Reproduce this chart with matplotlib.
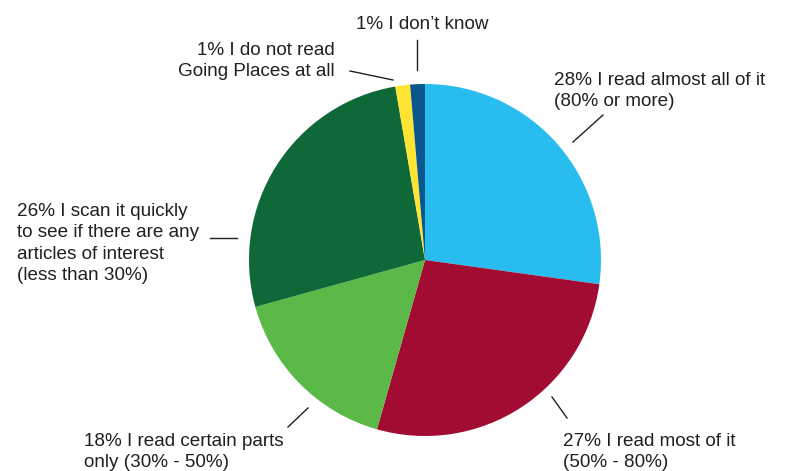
import matplotlib.pyplot as plt

plt.rcParams['font.family'] = ['Liberation Sans', 'DejaVu Sans']

# slices, clockwise from 12 o'clock
labels = [
    '28% I read almost all of it\n(80% or more)',
    '27% I read most of it\n(50% - 80%)',
    '18% I read certain parts\nonly (30% - 50%)',
    '26% I scan it quickly\nto see if there are any\narticles of interest\n(less than 30%)',
    '1% I do not read\nGoing Places at all',
    '1% I don\u2019t know',
]
shares = [27.2, 27.2, 16.3, 26.6, 1.35, 1.35]
colors = ['#29BDEF', '#A20B32', '#5AB947', '#0E6838', '#FFE531', '#0A568E']

W, H = 786, 471
fig = plt.figure(figsize=(W / 100, H / 100), dpi=100)
ax = fig.add_axes([0, 0, 1, 1])

cx, cy, r = 425, H - 260, 176
ax.pie(shares, colors=colors, startangle=90, counterclock=False,
       center=(cx, cy), radius=r, frame=True,
       wedgeprops=dict(linewidth=0))
ax.set_xlim(0, W)
ax.set_ylim(0, H)
ax.set_aspect('equal')
ax.axis('off')

# label placement (top-left of text block, in pixels from top-left)
text_pos = [(554, 72, 'left'), (563, 433, 'left'), (84, 433, 'left'),
            (17, 203, 'left'), (335, 42, 'right'), (356, 16, 'left')]
leader = [((603, 115), (573, 142)), ((552, 397), (567, 418)),
          ((288, 427), (308, 408)), ((210, 238), (237, 238)),
          ((350, 71), (393, 80)), ((417, 40), (417, 70))]

for lab, (tx, ty, ha), ((x0, y0), (x1, y1)) in zip(labels, text_pos, leader):
    ax.text(tx, H - ty, lab, ha=ha, va='top', fontsize=13.6,
            color='#231F20', linespacing=1.34)
    ax.plot([x0, x1], [H - y0, H - y1], color='#231F20', lw=1)

fig.savefig('out.png', dpi=100)
